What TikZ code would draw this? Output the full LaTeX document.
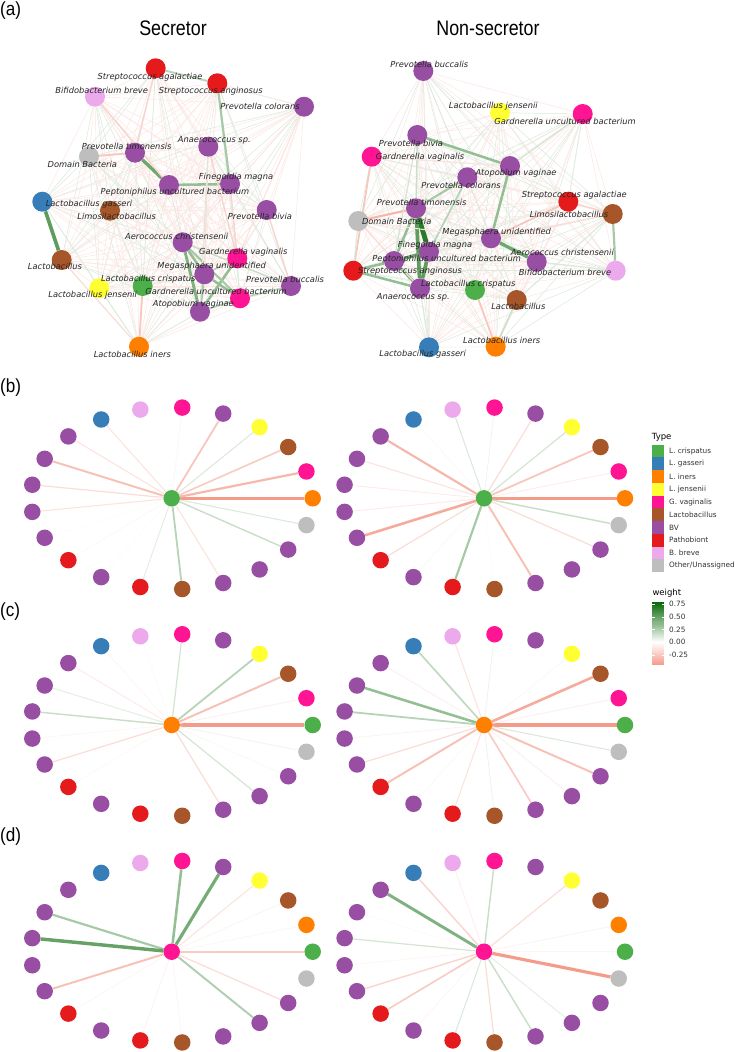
\documentclass[tikz,border=0pt]{standalone}
\usepackage{fontspec}
\setmainfont{Liberation Sans}
\newfontfamily\djv{DejaVu Sans}
\usepackage{tikz}
\usetikzlibrary{calc}

\definecolor{cgreen}{RGB}{77,175,74}
\definecolor{cblue}{RGB}{55,126,184}
\definecolor{corange}{RGB}{255,127,0}
\definecolor{cyellow}{RGB}{255,255,51}
\definecolor{cmag}{RGB}{255,20,147}
\definecolor{cbrown}{RGB}{166,86,40}
\definecolor{cpurple}{RGB}{152,78,163}
\definecolor{cred}{RGB}{228,26,28}
\definecolor{cpink}{RGB}{236,170,236}
\definecolor{cgray}{RGB}{190,190,190}
\definecolor{posE}{RGB}{0,100,0}
\definecolor{negE}{RGB}{244,155,138}

\pgfdeclarelayer{bg}
\pgfdeclarelayer{edges}
\pgfsetlayers{bg,edges,main}

% weighted link: green if positive, salmon if negative
\newcommand{\lnk}[3]{%
  \pgfmathsetmacro\lkw{abs(#3)}%
  \ifdim\lkw pt>0.001pt
    \pgfmathsetmacro\lkl{0.3+\lkw*7.5}%
    \ifdim #3pt<0pt
      \pgfmathtruncatemacro\lkp{min(100,\lkw/0.35*100)}\def\lkc{negE}%
    \else
      \pgfmathtruncatemacro\lkp{min(100,\lkw/0.7*100)}\def\lkc{posE}%
    \fi
    \draw[line width=\lkl pt, draw=\lkc!\lkp!white] (#1) -- (#2);
  \fi}

% one star panel: name, centre, centre colour, outer colours, weights
\newcommand{\ringpanel}[5]{%
  \node[dot, fill=#3] (#1c) at (#2) {};
  \foreach \col [count=\k from 0] in #4 {
    \node[dot, fill=\col] (#1\k) at ($(#2)+({141*cos(\k*360/21)},{-91*sin(\k*360/21)})$) {};}
  \begin{pgfonlayer}{edges}
    \foreach \w [count=\k from 0] in {#5}{\lnk{#1c}{#1\k}{\w}}
  \end{pgfonlayer}}

\def\namesA{Sag,San,Bbr,Pco,Ana,Pti,Dom,Fma,Pep,Lga,Pbi,Lim,Ach,Gva,Lac,Meg,Pbu,Lcr,Lje,Gun,Ava,Lin}
\def\colB{corange,cmag,cbrown,cyellow,cpurple,cmag,cpink,cblue,cpurple,cpurple,cpurple,cpurple,cpurple,cred,cpurple,cred,cbrown,cpurple,cpurple,cpurple,cgray}
\def\colC{cgreen,cmag,cbrown,cyellow,cpurple,cmag,cpink,cblue,cpurple,cpurple,cpurple,cpurple,cpurple,cred,cpurple,cred,cbrown,cpurple,cpurple,cpurple,cgray}
\def\colD{cgreen,corange,cbrown,cyellow,cpurple,cmag,cpink,cblue,cpurple,cpurple,cpurple,cpurple,cpurple,cred,cpurple,cred,cbrown,cpurple,cpurple,cpurple,cgray}

\begin{document}
\begin{tikzpicture}[x=1pt, y=-1pt,
  dot/.style={circle, inner sep=0pt, minimum size=16.5pt},
  big/.style={circle, inner sep=0pt, minimum size=20pt},
  lbl/.style={font=\djv\itshape\fontsize{8.3}{10}\selectfont, text=black!85, inner sep=0pt},
  ttl/.style={font=\fontsize{21}{24}\selectfont, anchor=base, inner sep=0pt},
  tag/.style={font=\fontsize{19}{22}\selectfont, anchor=base west, inner sep=0pt},
  leg/.style={font=\djv\fontsize{7.3}{9}\selectfont, text=black!80, anchor=west, inner sep=0pt},
  legt/.style={font=\djv\fontsize{8.5}{10}\selectfont, anchor=base west, inner sep=0pt},
  haze/.style={line width=0.5pt}]
\useasboundingbox (0,0) rectangle (735,1052);
\begin{pgfonlayer}{bg}
  \fill[white] (0,0) rectangle (735,1052);
\end{pgfonlayer}

% panel tags and titles
\node[tag] (tagA) at (0,16) {\scalebox{0.9}[1]{(a)}};
\node[tag] (tagB) at (0,392) {\scalebox{0.9}[1]{(b)}};
\node[tag] (tagC) at (0,616) {\scalebox{0.9}[1]{(c)}};
\node[tag] (tagD) at (0,841) {\scalebox{0.9}[1]{(d)}};
\node[ttl] (titS) at (173,35) {\scalebox{0.85}[1]{Secretor}};
\node[ttl] (titN) at (488,35) {\scalebox{0.85}[1]{Non-secretor}};

% (a) secretor network
\node[big, fill=cred] (sSag) at (155.7,68.3) {};
\node[big, fill=cred] (sSan) at (217.3,83.3) {};
\node[big, fill=cpink] (sBbr) at (95,96.7) {};
\node[big, fill=cpurple] (sPco) at (304,106.7) {};
\node[big, fill=cpurple] (sAna) at (208.3,146.7) {};
\node[big, fill=cpurple] (sPti) at (135,152.7) {};
\node[big, fill=cgray] (sDom) at (89,156.7) {};
\node[big, fill=cpurple] (sFma) at (230,184) {};
\node[big, fill=cpurple] (sPep) at (169,185) {};
\node[big, fill=cblue] (sLga) at (42.3,201.7) {};
\node[big, fill=cpurple] (sPbi) at (266.7,210) {};
\node[big, fill=cbrown] (sLim) at (110,210.7) {};
\node[big, fill=cpurple] (sAch) at (182.7,242.3) {};
\node[big, fill=cmag] (sGva) at (237.3,258.3) {};
\node[big, fill=cbrown] (sLac) at (61.7,260) {};
\node[big, fill=cpurple] (sMeg) at (204.3,274.3) {};
\node[big, fill=cpurple] (sPbu) at (291,286) {};
\node[big, fill=cgreen] (sLcr) at (142.7,286) {};
\node[big, fill=cyellow] (sLje) at (99.3,288.3) {};
\node[big, fill=cmag] (sGun) at (240,298.3) {};
\node[big, fill=cpurple] (sAva) at (200,311.7) {};
\node[big, fill=corange] (sLin) at (139,346.7) {};

\node[lbl] (sSagT) at (150,77.3) {Streptococcus agalactiae};
\node[lbl] (sSanT) at (210.7,91.7) {Streptococcus anginosus};
\node[lbl] (sBbrT) at (101.7,90) {Bifidobacterium breve};
\node[lbl] (sPcoT) at (260,106.7) {Prevotella colorans};
\node[lbl] (sAnaT) at (214.3,140) {Anaerococcus sp.};
\node[lbl] (sPtiT) at (126.7,146.7) {Prevotella timonensis};
\node[lbl] (sDomT) at (82.3,164.3) {Domain Bacteria};
\node[lbl] (sFmaT) at (236,177.3) {Finegoldia magna};
\node[lbl] (sPepT) at (175,192.7) {Peptoniphilus uncultured bacterium};
\node[lbl] (sLgaT) at (89,204) {Lactobacillus gasseri};
\node[lbl] (sPbiT) at (260,216.7) {Prevotella bivia};
\node[lbl] (sLimT) at (116.7,216.7) {Limosilactobacillus};
\node[lbl] (sAchT) at (176.7,236) {Aerococcus christensenii};
\node[lbl] (sGvaT) at (243.3,252.3) {Gardnerella vaginalis};
\node[lbl] (sLacT) at (55,266.7) {Lactobacillus};
\node[lbl] (sMegT) at (211.7,266.7) {Megasphaera unidentified};
\node[lbl] (sPbuT) at (285,279.3) {Prevotella buccalis};
\node[lbl] (sLcrT) at (148.3,279.3) {Lactobacillus crispatus};
\node[lbl] (sLjeT) at (92.7,295.7) {Lactobacillus jensenii};
\node[lbl] (sGunT) at (216,291.7) {Gardnerella uncultured bacterium};
\node[lbl] (sAvaT) at (193.3,304.3) {Atopobium vaginae};
\node[lbl] (sLinT) at (132.3,354) {Lactobacillus iners};

% (a) non-secretor network
\node[big, fill=cpurple] (nPbu) at (423.3,71) {};
\node[big, fill=cyellow] (nLje) at (500,112.7) {};
\node[big, fill=cmag] (nGun) at (582.7,114) {};
\node[big, fill=cpurple] (nPbi) at (417.3,135) {};
\node[big, fill=cmag] (nGva) at (371.7,156.7) {};
\node[big, fill=cpurple] (nAva) at (510,166) {};
\node[big, fill=cpurple] (nPco) at (467.3,177.3) {};
\node[big, fill=cred] (nSag) at (568.3,201.7) {};
\node[big, fill=cpurple] (nPti) at (416,208.3) {};
\node[big, fill=cbrown] (nLim) at (612.7,214) {};
\node[big, fill=cgray] (nDom) at (358.3,221) {};
\node[big, fill=cpurple] (nMeg) at (491,238.3) {};
\node[big, fill=cpurple] (nFma) at (429,251.7) {};
\node[big, fill=cpurple] (nPep) at (394,261) {};
\node[big, fill=cpurple] (nAch) at (536.7,261.7) {};
\node[big, fill=cred] (nSan) at (353.3,270.7) {};
\node[big, fill=cpink] (nBbr) at (615.7,270.7) {};
\node[big, fill=cgreen] (nLcr) at (475,290) {};
\node[big, fill=cpurple] (nAna) at (420,288.3) {};
\node[big, fill=cbrown] (nLac) at (516.7,300) {};
\node[big, fill=corange] (nLin) at (495.7,346.7) {};
\node[big, fill=cblue] (nLga) at (429,347.3) {};

\node[lbl] (nPbuT) at (429.3,64.3) {Prevotella buccalis};
\node[lbl] (nLjeT) at (493.3,106.7) {Lactobacillus jensenii};
\node[lbl] (nGunT) at (565,121.7) {Gardnerella uncultured bacterium};
\node[lbl] (nPbiT) at (411,143.3) {Prevotella bivia};
\node[lbl] (nGvaT) at (420,157.7) {Gardnerella vaginalis};
\node[lbl] (nAvaT) at (516,173.3) {Atopobium vaginae};
\node[lbl] (nPcoT) at (461,185) {Prevotella colorans};
\node[lbl] (nSagT) at (574.3,195.7) {Streptococcus agalactiae};
\node[lbl] (nPtiT) at (421.7,202.3) {Prevotella timonensis};
\node[lbl] (nLimT) at (569,214) {Limosilactobacillus};
\node[lbl] (nDomT) at (396.7,221.7) {Domain Bacteria};
\node[lbl] (nMegT) at (496.7,232.3) {Megasphaera unidentified};
\node[lbl] (nFmaT) at (435,245.7) {Finegoldia magna};
\node[lbl] (nPepT) at (446.7,259) {Peptoniphilus uncultured bacterium};
\node[lbl] (nAchT) at (562.3,252.3) {Aerococcus christensenii};
\node[lbl] (nSanT) at (410,271.7) {Streptococcus anginosus};
\node[lbl] (nBbrT) at (565,272.3) {Bifidobacterium breve};
\node[lbl] (nLcrT) at (468.3,284) {Lactobacillus crispatus};
\node[lbl] (nAnaT) at (413.3,297.3) {Anaerococcus sp.};
\node[lbl] (nLacT) at (518.3,306.7) {Lactobacillus};
\node[lbl] (nLinT) at (501.7,340) {Lactobacillus iners};
\node[lbl] (nLgaT) at (422.7,354) {Lactobacillus gasseri};

\begin{pgfonlayer}{edges}
% faint background web
\foreach \p/\q in {s/0,n/1}{
  \foreach \a [count=\i] in \namesA {
    \foreach \b [count=\j] in \namesA {
      \ifnum\i<\j
        \pgfmathtruncatemacro\hz{mod(\i*7+\j*11+\q,3)}
        \ifnum\hz=0 \draw[haze, draw=posE!14!white] (\p\a) -- (\p\b);
        \else \draw[haze, draw=negE!24!white] (\p\a) -- (\p\b); \fi
      \fi}}}
% secretor
\lnk{sLga}{sLac}{0.45}
\lnk{sSag}{sSan}{0.2}
\lnk{sSan}{sFma}{0.25}
\lnk{sFma}{sGva}{-0.15}
\lnk{sPti}{sPep}{0.4}
\lnk{sPep}{sFma}{0.3}
\lnk{sAch}{sMeg}{0.3}
\lnk{sAch}{sAva}{0.35}
\lnk{sMeg}{sAva}{0.25}
\lnk{sMeg}{sGva}{0.2}
\lnk{sGva}{sAva}{0.3}
\lnk{sMeg}{sGun}{0.3}
\lnk{sAva}{sGun}{0.2}
\lnk{sAch}{sGun}{0.25}
\lnk{sAch}{sPbu}{0.15}
\lnk{sGun}{sPbu}{0.2}
\lnk{sPti}{sDom}{-0.2}
\lnk{sSag}{sPti}{-0.15}
\lnk{sLcr}{sLin}{-0.2}
\lnk{sLac}{sLin}{-0.12}
\lnk{sAna}{sGva}{-0.15}
\lnk{sPbi}{sPbu}{-0.15}
\lnk{sAna}{sMeg}{-0.12}
\lnk{sBbr}{sPep}{-0.15}
\lnk{sLcr}{sMeg}{-0.1}
\lnk{sLim}{sLcr}{0.08}
\lnk{sLin}{sAva}{0.08}
\lnk{sLje}{sLin}{0.08}
\lnk{sPco}{sGva}{-0.1}
\lnk{sAna}{sAva}{0.1}
% non-secretor
\lnk{nPti}{nFma}{0.6}
\lnk{nPti}{nAna}{0.45}
\lnk{nPep}{nFma}{0.4}
\lnk{nPep}{nAna}{0.35}
\lnk{nFma}{nAna}{0.45}
\lnk{nSan}{nPep}{0.3}
\lnk{nSan}{nAna}{0.3}
\lnk{nPep}{nPti}{0.3}
\lnk{nPco}{nPti}{0.25}
\lnk{nPco}{nFma}{0.2}
\lnk{nPbi}{nAva}{0.3}
\lnk{nAva}{nMeg}{0.3}
\lnk{nMeg}{nAch}{0.4}
\lnk{nLim}{nBbr}{0.25}
\lnk{nPbi}{nPti}{0.15}
\lnk{nDom}{nPti}{-0.25}
\lnk{nGva}{nSan}{-0.2}
\lnk{nMeg}{nSag}{-0.2}
\lnk{nLcr}{nLin}{-0.2}
\lnk{nSag}{nLim}{-0.15}
\lnk{nDom}{nAna}{-0.12}
\lnk{nMeg}{nLim}{-0.12}
\lnk{nGva}{nAva}{-0.1}
\lnk{nAva}{nGun}{0.12}
\lnk{nLim}{nLac}{0.1}
\lnk{nAch}{nBbr}{0.1}
\lnk{nLin}{nLac}{0.15}
\lnk{nLga}{nAna}{0.1}
\lnk{nGun}{nSag}{0.08}
\lnk{nDom}{nSan}{0.1}
\lnk{nPbi}{nPep}{0.12}
\lnk{nDom}{nMeg}{-0.1}
\end{pgfonlayer}

% (b)-(d) star panels
\ringpanel{bS}{171.7,498.3}{cgreen}{\colB}{-0.38,-0.25,-0.18,0.1,-0.2,-0.04,0,-0.1,-0.1,-0.22,-0.12,-0.1,-0.02,-0.03,-0.02,0.08,0.2,-0.1,0,0.15,0.1}
\ringpanel{bN}{484,498.3}{cgreen}{\colB}{-0.38,-0.07,-0.2,0.12,-0.12,0.05,0.1,0.03,-0.25,-0.1,-0.07,-0.08,-0.3,-0.12,0.03,0.25,0.02,-0.22,0,-0.12,0.15}
\ringpanel{cS}{171.7,725}{corange}{\colC}{-0.38,-0.06,-0.22,0.2,0,0.12,-0.03,-0.04,-0.08,0.08,0.15,-0.04,-0.12,-0.03,0,0,0,-0.12,0.12,0.03,0.05}
\ringpanel{cN}{484,725}{corange}{\colC}{-0.38,-0.06,-0.3,0.03,0,0.06,-0.1,0.18,-0.06,0.3,0.2,-0.05,-0.12,-0.22,0.03,-0.1,0.06,-0.18,-0.06,-0.22,0.1}
\ringpanel{dS}{171.7,951.7}{cmag}{\colD}{-0.18,-0.04,0.04,-0.1,0.38,0.3,0,0,0,0.25,0.42,0,-0.22,-0.04,0,-0.05,-0.04,0,0.22,-0.12,0}
\ringpanel{dN}{484,951.7}{cmag}{\colD}{-0.04,-0.05,0,-0.12,0,0.15,-0.06,-0.15,0.35,-0.03,0.12,-0.04,-0.15,-0.18,-0.04,0.1,-0.12,0.15,0.08,0,-0.38}

% legend: Type
\node[legt] (typeT) at (651.7,439.5) {Type};
\foreach \c/\t [count=\k from 0] in {cgreen/L. crispatus, cblue/L. gasseri, corange/L. iners, cyellow/L. jensenii, cmag/G. vaginalis, cbrown/Lactobacillus, cpurple/BV, cred/Pathobiont, cpink/B. breve, cgray/{Other/Unassigned}}{
  \fill[\c] (652.3,{451+12.75*\k-6.3}) rectangle (664.3,{451+12.75*\k+6.3});
  \node[leg] (key\k) at (669,{451+12.75*\k}) {\t};}

% legend: weight
\node[legt] (wT) at (652.3,595) {weight};
\foreach \v in {-0.45,-0.43,...,0.79}{
  \pgfmathsetmacro\va{abs(\v+0.01)}
  \ifdim \v pt<-0.01pt \pgfmathtruncatemacro\vp{min(100,\va/0.45*100)}\def\vc{negE}%
  \else \pgfmathtruncatemacro\vp{min(100,\va/0.8*100)}\def\vc{posE}\fi
  \fill[\vc!\vp!white] (652.3,{642.3-50.8*\v}) rectangle (664.3,{642.3-50.8*(\v+0.021)});}
\foreach \v/\t in {0.75/0.75, 0.5/0.50, 0.25/0.25, 0/0.00, -0.25/-0.25}{
  \draw[white, line width=0.5pt] (652.3,{642.3-50.8*\v}) -- ++(2.4,0) (664.3,{642.3-50.8*\v}) -- ++(-2.4,0);
  \node[leg] (tick\t) at (669,{642.3-50.8*\v}) {\t};}
\end{tikzpicture}
\end{document}
